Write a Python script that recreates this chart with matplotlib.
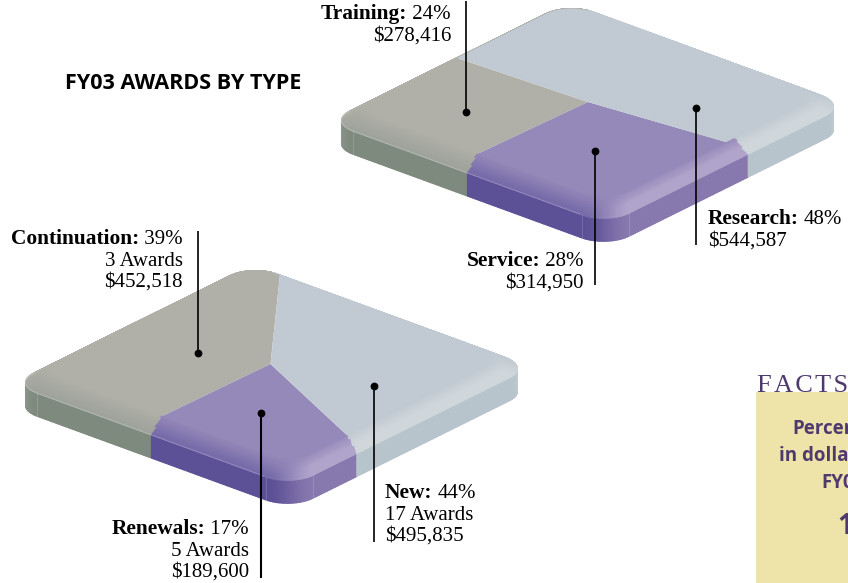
import numpy as np
import matplotlib
matplotlib.use("Agg")
import matplotlib.pyplot as plt
from matplotlib.collections import PolyCollection
from matplotlib.colors import to_rgb
from matplotlib.patches import Polygon, Rectangle

# Dados
tipo_nomes = ["Training", "Research", "Service"]
tipo_pct = [24, 48, 28]
tipo_valor = ["$278,416", "$544,587", "$314,950"]

status_nomes = ["Continuation", "New", "Renewals"]
status_pct = [39, 44, 17]
status_awards = [3, 17, 5]
status_valor = ["$452,518", "$495,835", "$189,600"]

# Cores: topo, chanfro frente-esq, chanfro frente-dir, parede esq, parede dir, parede lado
CINZA = ["#B0B0A8", "#9DA29A", "#B8BBB4", "#7F8A7E", "#8F9890", "#A3A6A0"]
ROXO = ["#9589B9", "#7569A8", "#B0A4CB", "#5C5096", "#8778AE", "#8778AE"]
AZUL = ["#C1CAD2", "#B7C4CB", "#D0D7DB", "#B7C4CB", "#B7C4CB", "#C9D2D8"]
ROXO_TEXTO = "#4F3A6E"
FONTE_SERIF = "Liberation Serif"
FONTE_SANS = "Open Sans"

# Geometria da placa (pixels), placa de baixo e a mesma deslocada
U_L, U_T, U_R, U_B = [np.array(p, float) for p in [(328, 122), (568, 3), (847, 105), (607, 224)]]
F_L, F_T, F_R, F_B = [np.array(p, float) for p in [(354.7, 108.8), (568, 3), (820.3, 95.2), (607, 201)]]
PAREDE = 23
DESLOC = np.array([-316.0, 262.0])


def contorno(L, T, B, r):
    ea, eb = B - L, T - L
    n_lado, n_canto = 120, 24
    uv, nn = [], []
    def reta(a0, b0, a1, b1, n):
        for t in np.linspace(0, 1, n_lado, endpoint=False):
            uv.append((a0 + (a1 - a0) * t, b0 + (b1 - b0) * t))
            nn.append(n)
    def canto(ca, cb, ang0):
        for t in np.linspace(0, 1, n_canto, endpoint=False):
            ang = ang0 + t * np.pi / 2
            uv.append((ca + r * np.cos(ang), cb + r * np.sin(ang)))
            nn.append((np.cos(ang), np.sin(ang)))
    reta(0, 1 - r, 0, r, (-1, 0))
    canto(r, r, np.pi)
    reta(r, 0, 1 - r, 0, (0, -1))
    canto(1 - r, r, 1.5 * np.pi)
    reta(1, r, 1, 1 - r, (1, 0))
    canto(1 - r, 1 - r, 0)
    reta(1 - r, 1, r, 1, (0, 1))
    canto(r, 1 - r, np.pi / 2)
    uv = np.array(uv)
    return L + uv[:, :1] * ea + uv[:, 1:] * eb, np.array(nn)


def cor_normal(n, paleta, i_f, i_b, i_o):
    wf = max(0, -n[1]) ** 2
    wb = max(0, n[0]) ** 2
    return (np.array(to_rgb(paleta[i_f])) * wf + np.array(to_rgb(paleta[i_b])) * wb
            + np.array(to_rgb(paleta[i_o])) * (1 - wf - wb))


def paleta_em(x, cortes, paletas):
    if x < cortes[0]:
        return paletas[0]
    if x < cortes[1]:
        return paletas[1]
    return paletas[2]


def placa(ax, d, fatias, paletas, corte_topo, corte_borda):
    ext, n_ext = contorno(U_L + d, U_T + d, U_B + d, 0.09)
    top, n_top = contorno(F_L + d, F_T + d, F_B + d, 0.10)
    N = len(ext)
    x_meio = (ext[:, 0].min() + ext[:, 0].max()) / 2

    # paredes
    quads, cores = [], []
    for i in range(N):
        j = (i + 1) % N
        if ext[j, 0] - ext[i, 0] <= 0:
            continue
        p, q = ext[i], ext[j]
        quads.append([p, q, q + (0, PAREDE), p + (0, PAREDE)])
        pal = paleta_em((p[0] + q[0]) / 2, corte_borda, paletas)
        cores.append(cor_normal(n_ext[i], pal, 3, 4, 5))
    ax.add_collection(PolyCollection(quads, facecolors=cores, edgecolors=cores, linewidths=0.9, zorder=2))

    # chanfro
    quads, cores = [], []
    n_fil = 8
    for k in range(n_fil):
        w0, w1 = k / n_fil, (k + 1) / n_fil
        a = top + (ext - top) * w0
        b = top + (ext - top) * w1
        cortes = [corte_topo[m] + (corte_borda[m] - corte_topo[m]) * (w0 + w1) / 2 for m in range(2)]
        for i in range(N):
            j = (i + 1) % N
            x = (a[i, 0] + b[j, 0]) / 2
            if n_ext[i][1] >= 0 and n_ext[i][0] <= 0.999:
                pal = paletas[0] if x < x_meio else paletas[2]
            else:
                pal = paleta_em(x, cortes, paletas)
            base = np.array(to_rgb(pal[0]))
            c = cor_normal(n_ext[i], pal, 1, 2, 0)
            wf = max(0, -n_ext[i][1]) ** 2
            f = (w0 + w1) / 2
            t = wf * f + (1 - wf) * min(1, f * 1.7)
            quads.append([a[i], a[j], b[j], b[i]])
            cores.append(base + (c - base) * t)
    ax.add_collection(PolyCollection(quads, facecolors=cores, edgecolors=cores, linewidths=0.9, zorder=3))

    # topo
    for poli, pal in zip(fatias, paletas):
        sombra = Polygon(top, closed=True, facecolor=pal[0], edgecolor=pal[0], linewidth=0.3, zorder=4)
        ax.add_patch(sombra)
        sombra.set_clip_path(Polygon(poli, closed=True, transform=ax.transData))

    # filetes claros
    idx = np.arange(120, 120 + 24 + 120)
    ax.plot(ext[idx, 0], ext[idx, 1], color="white", alpha=0.25, lw=0.6, zorder=5)
    for i in [144, 264, 288]:
        ax.plot([ext[i, 0]] * 2, [ext[i, 1], ext[i, 1] + PAREDE], color="white", alpha=0.18, lw=0.6, zorder=5)


def lerp(p, q, t):
    return p + (q - p) * t


def guia(ax, x, y_ponto, y_fim, lw=1.2):
    ax.plot([x, x], [y_ponto, y_fim], color="black", lw=lw, zorder=6, solid_capstyle="butt")
    ax.plot([x], [y_ponto], "o", color="black", ms=5.6, mew=0, zorder=7)


def rotulo(ax, fig, x, y, nome, pct, linhas, ha):
    rend = fig.canvas.get_renderer()
    tam = 15
    tam_b = 15.4
    if ha == "right":
        t = ax.text(x, y, f" {pct}%", ha="right", va="baseline", family=FONTE_SERIF, fontsize=tam, zorder=8)
        larg = t.get_window_extent(rend).width
        ax.text(x - larg, y, f"{nome}:", ha="right", va="baseline", family=FONTE_SERIF,
                fontsize=tam_b, weight="bold", zorder=8)
    else:
        t = ax.text(x, y, f"{nome}:", ha="left", va="baseline", family=FONTE_SERIF,
                    fontsize=tam_b, weight="bold", zorder=8)
        larg = t.get_window_extent(rend).width
        ax.text(x + larg + 5, y, f"{pct}%", ha="left", va="baseline", family=FONTE_SERIF, fontsize=tam, zorder=8)
    for i, s in enumerate(linhas):
        ax.text(x, y + 21.5 * (i + 1), s, ha=ha, va="baseline", family=FONTE_SERIF, fontsize=tam, zorder=8)


fig = plt.figure(figsize=(8.48, 5.83), dpi=100)
ax = fig.add_axes([0, 0, 1, 1])
ax.set_xlim(0, 848)
ax.set_ylim(583, 0)
ax.axis("off")

# placa de cima
b1 = lerp(F_L, F_T, 0.48)
b2 = lerp(F_B, F_R, 0.60)
jc = np.array([588.0, 102.0])
sp = lerp(F_L, F_B, 0.485)
fatias = [[b1, jc, sp + (-20, 10), F_L + (-40, 0)],
          [jc, b2 + (10, 10), F_B + (0, 40), sp + (-20, 10)],
          [b1, F_T + (0, -20), F_R + (40, 0), b2 + (10, 10), jc]]
placa(ax, np.zeros(2), fatias, [CINZA, ROXO, AZUL], [477, 735], [468, 748])

# placa de baixo
d = DESLOC
jc2 = np.array([270.5, 364.0])
bt = lerp(F_T, F_R, 0.107) + d
bl = lerp(F_L, F_B, 0.489) + d
br = lerp(F_B, F_R, 0.267) + d
fatias2 = [[bt + (2, -10), F_T + d + (0, -20), F_L + d + (-40, 0), bl + (-20, 10), jc2],
           [jc2, br + (20, 20), F_B + d + (0, 40), bl + (-20, 10)],
           [jc2, bt + (2, -10), F_R + d + (40, 0), br + (20, 20)]]
placa(ax, d, fatias2, [CINZA, ROXO, AZUL], [162, 348], [152, 357])

# guias
guia(ax, 466, 112, 1)
guia(ax, 695.5, 108, 245)
guia(ax, 595, 151, 285)
guia(ax, 197.5, 353, 231)
guia(ax, 373.5, 386, 542)
guia(ax, 261, 413, 578, lw=1.5)

# rotulos
rotulo(ax, fig, 451, 19, tipo_nomes[0], tipo_pct[0], [tipo_valor[0]], "right")
rotulo(ax, fig, 708, 224, tipo_nomes[1], tipo_pct[1], [tipo_valor[1]], "left")
rotulo(ax, fig, 584, 266, tipo_nomes[2], tipo_pct[2], [tipo_valor[2]], "right")
rotulo(ax, fig, 183, 244, status_nomes[0], status_pct[0],
       [f"{status_awards[0]} Awards", status_valor[0]], "right")
rotulo(ax, fig, 385, 498, status_nomes[1], status_pct[1],
       [f"{status_awards[1]} Awards", status_valor[1]], "left")
rotulo(ax, fig, 249, 534, status_nomes[2], status_pct[2],
       [f"{status_awards[2]} Awards", status_valor[2]], "right")

ax.text(65, 89, "FY03 AWARDS BY TYPE", family=FONTE_SANS, weight="bold", fontsize=15.5,
        color="black", ha="left", va="baseline")

# caixa FACTS, cortada na borda direita
ax.add_patch(Rectangle((756, 392), 92, 191, facecolor="#EEE3A8", edgecolor="none", zorder=1))
ax.text(757, 392, "F\u200aA\u200aC\u200aT\u200aS", family=FONTE_SERIF, fontsize=19, color=ROXO_TEXTO,
        ha="left", va="baseline")
ax.text(792, 434, "Percent", family=FONTE_SANS, weight="bold", fontsize=13.5, color=ROXO_TEXTO, ha="left", va="baseline")
ax.text(779, 461, "in dollars", family=FONTE_SANS, weight="bold", fontsize=13.5, color=ROXO_TEXTO, ha="left", va="baseline")
ax.text(821, 488, "FY03", family=FONTE_SANS, weight="bold", fontsize=13.5, color=ROXO_TEXTO, ha="left", va="baseline")
ax.text(837, 534, "1", family=FONTE_SANS, weight="bold", fontsize=20, color=ROXO_TEXTO, ha="left", va="baseline")

fig.savefig("out.png", dpi=100)
